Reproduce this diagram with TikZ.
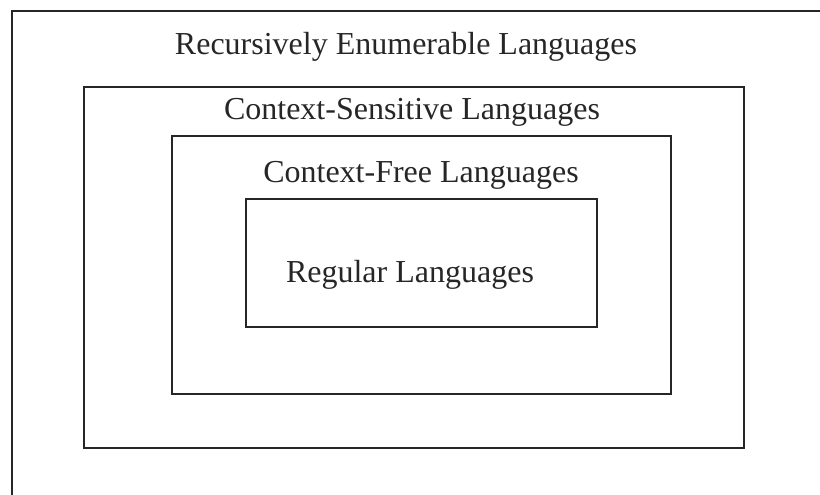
\documentclass[tikz,border=0pt]{standalone}
\usepackage{fontspec}
\setmainfont{Liberation Serif}
\begin{document}
\begin{tikzpicture}[x=1pt,y=-1pt,
  box/.style={draw=black!85, line width=1.6pt},
  lbl/.style={font=\fontsize{32}{38}\selectfont, text=black!85, anchor=base, inner sep=0pt}]
\useasboundingbox (0,0) rectangle (820,495);
% outermost class runs past the page edge
\begin{scope}
  \clip (0,0) rectangle (820,495);
  \draw[box] (12,11) rectangle (840,520);
\end{scope}
% nested language classes
\draw[box] (84,87) rectangle (744,448);
\draw[box] (172,136) rectangle (671,394);
\draw[box] (246,199) rectangle (597,327);
% class names
\node[lbl] (re)  at (406,55)  {Recursively Enumerable Languages};
\node[lbl] (cs)  at (412,120) {Context-Sensitive Languages};
\node[lbl] (cf)  at (421,182) {Context-Free Languages};
\node[lbl] (reg) at (410,282) {Regular Languages};
\end{tikzpicture}
\end{document}
